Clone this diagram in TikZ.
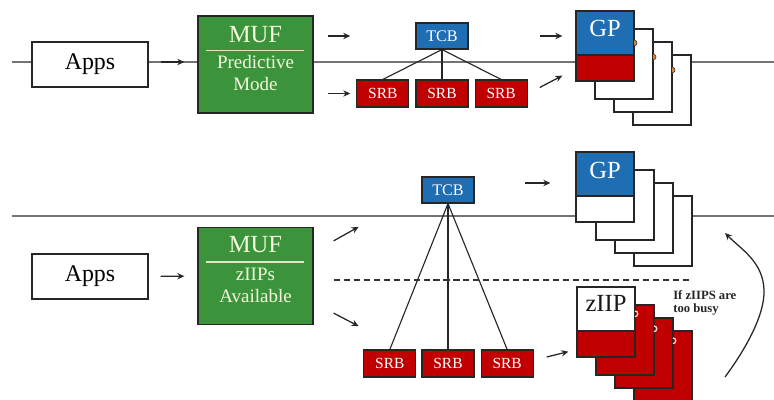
\documentclass[tikz,border=0pt]{standalone}
\usepackage{fontspec}
\setmainfont{Liberation Serif}
\usepackage{xcolor}
\usepackage{tikz}
\usetikzlibrary{arrows.meta, positioning, calc}
\definecolor{mufgreen}{HTML}{3B943B}
\definecolor{cbblue}{HTML}{1F6DB3}
\definecolor{cbred}{HTML}{C00000}
\definecolor{muftxt}{HTML}{F4F8DC}
\definecolor{dotorange}{HTML}{D9822B}

\begin{document}
\begin{tikzpicture}[
  x = 0.025cm, y = -0.025cm,
  appsbox/.style  = {draw=black!85, line width=0.9pt, fill=white, minimum width=2.9cm,
                     minimum height=1.125cm, inner sep=0pt, font=\fontsize{17}{18}\selectfont},
  mufbox/.style   = {draw=black!85, line width=0.9pt, fill=mufgreen, minimum width=2.875cm,
                     minimum height=2.425cm},
  muftitle/.style = {text=muftxt, inner sep=0pt, font=\fontsize{17.5}{18}\selectfont},
  muftext/.style  = {text=muftxt, align=center, inner sep=0pt, font=\fontsize{13.5}{15.5}\selectfont},
  mufrule/.style  = {muftxt!85!mufgreen, line width=1.2pt},
  tcb/.style      = {draw=black!85, line width=0.8pt, fill=cbblue, text=white, minimum width=1.3cm,
                     minimum height=0.65cm, inner sep=0pt, font=\fontsize{11.5}{12}\selectfont},
  srb/.style      = {tcb, fill=cbred, minimum height=0.675cm, font=\fontsize{11}{12}\selectfont},
  card/.style     = {draw=black!85, line width=0.9pt, fill=white, minimum width=1.45cm,
                     minimum height=1.75cm, inner sep=0pt},
  splitcard/.style 2 args = {card, fill=#1, path picture={
                     \fill[#2] (path picture bounding box.south west) rectangle
                       ([yshift=0.65cm]path picture bounding box.south east);
                     \draw[black!85, line width=0.9pt] ([yshift=0.65cm]path picture bounding box.south west)
                       -- ([yshift=0.65cm]path picture bounding box.south east);}},
  cardtext/.style = {inner sep=0pt, font=\fontsize{17.5}{18}\selectfont},
  busytext/.style = {align=left, inner sep=0pt, text=black!85, font=\bfseries\fontsize{9}{9.5}\selectfont},
  track/.style    = {draw=black!55, line width=1pt},
  link/.style     = {black!85, line width=0.8pt},
  arr/.style      = {-{Stealth[length=5pt, width=4.5pt]}, line width=0.9pt, black!85},
  dashline/.style = {black!80, line width=0.9pt, dash pattern=on 4.3pt off 2.8pt},
  gpdot/.style    = {fill=dotorange, draw=black!80, line width=0.4pt},
  zipdot/.style   = {draw=white!85!red, line width=0.9pt}
]
\useasboundingbox (0,0) rectangle (774,400);

%% ---- TOP: PREDICTIVE MODE ----
\coordinate (trk1w) at (12,62);
\coordinate (trk1e) at (774,62);
\draw[track] (trk1w) -- (trk1e);

\node[appsbox] (apps1) at (90,64.5)    {Apps};
\node[mufbox]  (muf1)  at (255.5,64.5) {};
\node[muftitle] (muf1t) at ($(muf1.north)+(0,19)$) {MUF};
\draw[mufrule] ($(muf1.north west)+(9,35)$) -- ($(muf1.north east)+(-10,35)$);
\node[muftext] (muf1s) at ($(muf1.north)+(0,58)$) {Predictive\\Mode};

\node[tcb] (tcb1) at (442,36)   {TCB};
\node[srb] (srb2) at (442,93.5) {SRB};
\node[srb, left=0.15cm of srb2]  (srb1) {SRB};
\node[srb, right=0.15cm of srb2] (srb3) {SRB};

\draw[link] (tcb1.south) -- (srb1.north);
\draw[link] (tcb1.south) -- (srb2.north);
\draw[link] (tcb1.south) -- (srb3.north);

% GP stack
\coordinate (gpa) at (605,46);
\node[card] (gpa4) at ($(gpa)+(57,44)$) {};
\node[card] (gpa3) at ($(gpa)+(38,31)$) {};
\node[card] (gpa2) at ($(gpa)+(19,18)$) {};
\node[splitcard={cbblue}{cbred}] (gp1) at (gpa) {};
\node[cardtext, text=white] (gp1t) at ($(gp1.north)+(0,18)$) {GP};
\filldraw[gpdot] (634,40) arc[start angle=90, end angle=-90, radius=0.075cm];
\filldraw[gpdot] (653,54) arc[start angle=90, end angle=-90, radius=0.075cm];
\filldraw[gpdot] (672,67) arc[start angle=90, end angle=-90, radius=0.075cm];

% arrows
\draw[arr, shorten <=0.3cm, shorten >=0.325cm] (apps1.east |- trk1w) -- (muf1.west |- trk1w);
\draw[arr, shorten <=0.35cm, shorten >=0.15cm] (muf1.east |- tcb1) -- (srb1.west |- tcb1);
\draw[arr, shorten <=0.35cm, shorten >=0.15cm] (muf1.east |- srb1) -- (srb1.west);
\draw[arr, shorten <=0.3cm, shorten >=0.325cm] (srb3.east |- tcb1) -- (gp1.west |- tcb1);
\draw[arr] ($(srb3.east)+(12,-6)$) -- ($(gp1.south west)+(-13,-6)$);

%% ---- BOTTOM: zIIPs AVAILABLE ----
\coordinate (trk2w) at (12,216);
\coordinate (trk2e) at (774,216);
\draw[track] (trk2w) -- (trk2e);

\node[appsbox] (apps2) at (90,276.5) {Apps};
\node[mufbox]  (muf2)  at (255.5,276) {};
\node[muftitle] (muf2t) at ($(muf2.north)+(0,18)$) {MUF};
\draw[mufrule] ($(muf2.north west)+(9,35)$) -- ($(muf2.north east)+(-10,35)$);
\node[muftext] (muf2s) at ($(muf2.north)+(0,58.5)$) {zIIPs\\Available};

\node[tcb] (tcb2) at (448,190)   {TCB};
\node[srb] (srb5) at (448,363.5) {SRB};
\node[srb, left=0.125cm of srb5] (srb4) {SRB};
\node[srb, right=0.15cm of srb5] (srb6) {SRB};

\draw[link] (tcb2.south) -- (srb4.north);
\draw[link] (tcb2.south) -- (srb5.north);
\draw[link] (tcb2.south) -- (srb6.north);

\draw[dashline] ($(muf2.east)+(20,4)$) -- ++(355,0);

% GP stack
\coordinate (gpb) at (605,187);
\node[card] (gpb4) at ($(gpb)+(58,44)$) {};
\node[card] (gpb3) at ($(gpb)+(39,31)$) {};
\node[card] (gpb2) at ($(gpb)+(20,18)$) {};
\node[splitcard={cbblue}{white}] (gp2) at (gpb) {};
\node[cardtext, text=white] (gp2t) at ($(gp2.north)+(0,19)$) {GP};

% zIIP stack
\coordinate (zpa) at (606,322);
\node[card, fill=cbred] (zpa4) at ($(zpa)+(57,44)$) {};
\node[card, fill=cbred] (zpa3) at ($(zpa)+(38,31)$) {};
\node[card, fill=cbred] (zpa2) at ($(zpa)+(19,18)$) {};
\node[splitcard={white}{cbred}] (zip1) at (zpa) {};
\node[cardtext, text=black!90] (zip1t) at ($(zip1.north)+(0,17)$) {zIIP};
\draw[zipdot] (635,311) arc[start angle=90, end angle=-90, radius=0.07cm];
\draw[zipdot] (654,326) arc[start angle=90, end angle=-90, radius=0.07cm];
\draw[zipdot] (673,338) arc[start angle=90, end angle=-90, radius=0.07cm];

\node[busytext, anchor=west] (busy) at (673,303) {If zIIPS are\\too busy};

% arrows
\draw[arr, shorten <=0.3cm, shorten >=0.325cm] (apps2) -- (muf2);
\draw[arr] ($(muf2.north east)+(20,14)$) -- ($(muf2.north east)+(45,0)$);
\draw[arr] ($(muf2.south east)+(20,-12)$) -- ($(muf2.south east)+(45,1)$);
\draw[arr] ($(gp2.west)+(-50,-4)$) -- ++(25,0);
\draw[arr] ($(srb6.east)+(13,-6.5)$) -- ($(zip1.south west)+(-8,-6)$);

\coordinate (busyA) at (725,377);
\coordinate (busyB) at (725,233);
\draw[arr] (busyA) .. controls (745,350) and (765,315) .. (764,290)
                   .. controls (763,262) and (742,250) .. (busyB);
\end{tikzpicture}
\end{document}
